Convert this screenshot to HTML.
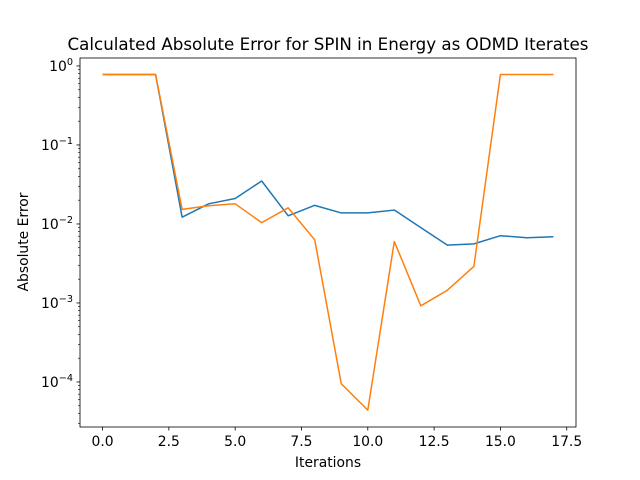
<!DOCTYPE html>
<html><head><meta charset="utf-8"><style>body{margin:0;background:#fff}svg{display:block;font-family:"DejaVu Sans","Liberation Sans",sans-serif}</style></head>
<body>
<svg id="chart" width="640" height="480"></svg>
<script>
const iterations=[0,1,2,3,4,5,6,7,8,9,10,11,12,13,14,15,16,17];
const seriesBlue=[0.78,0.78,0.78,0.0122,0.018,0.021,0.035,0.0127,0.0172,0.0138,0.0138,0.015,0.009,0.0054,0.0056,0.0071,0.0067,0.0069];
const seriesOrange=[0.78,0.78,0.78,0.0153,0.017,0.018,0.0104,0.016,0.0063,0.000095,0.000044,0.006,0.00092,0.00145,0.0029,0.78,0.78,0.78];
const xTicks=[0,2.5,5,7.5,10,12.5,15,17.5];
const xTickLabels=["0.0","2.5","5.0","7.5","10.0","12.5","15.0","17.5"];
const yTickExps=[0,-1,-2,-3,-4];
const NS="http://www.w3.org/2000/svg";
const svg=document.getElementById('chart');
const L=80,R=576,T=58,B=427;
const xMin=-0.85,xMax=17.85;
const yMin=-4.57,yMax=(B-T)/79+(-4.57);
function X(v){return L+(v-xMin)/(xMax-xMin)*(R-L);}
function Y(v){const lv=Math.log10(v);return B-(lv-yMin)/(yMax-yMin)*(B-T);}
function el(tag,attrs,parent){const e=document.createElementNS(NS,tag);for(const k in attrs)e.setAttribute(k,attrs[k]);(parent||svg).appendChild(e);return e;}
const title=el('text',{x:328,y:50,'text-anchor':'middle','font-size':16.7,fill:'#000'});
title.textContent='Calculated Absolute Error for SPIN in Energy as ODMD Iterates';


function line(data,color,name){
 const pts=iterations.map((x,i)=>X(x).toFixed(2)+','+Y(data[i]).toFixed(2)).join(' ');
 const p=el('polyline',{points:pts,fill:'none',stroke:color,'stroke-width':1.5,'stroke-linejoin':'round'});
 
 
}
line(seriesBlue,'#1f77b4','series-blue-line');
line(seriesOrange,'#ff7f0e','series-orange-line');
const frame=el('rect',{x:L,y:T,width:R-L,height:B-T,fill:'none',stroke:'#000','stroke-width':0.8});


xTicks.forEach((t,i)=>{
 const x=X(t);
 el('line',{x1:x,x2:x,y1:B,y2:B+3.5,stroke:'#000','stroke-width':0.8});
 const tx=el('text',{x:x,y:B+19,'text-anchor':'middle','font-size':13.9,fill:'#000'});
 tx.textContent=xTickLabels[i];
 
 
});
yTickExps.forEach(e=>{
 const y=Y(Math.pow(10,e));
 el('line',{x1:L,x2:L-3.5,y1:y,y2:y,stroke:'#000','stroke-width':0.8});
 const tx=el('text',{x:L-7,y:y+5,'text-anchor':'end','font-size':13.9,fill:'#000'});
 tx.innerHTML='10<tspan dy="-6" font-size="9.7">'+(e<0?'−'+(-e):e)+'</tspan>';
 
 
});
for(let e=-5;e<=0;e++){for(let m=2;m<=9;m++){const v=m*Math.pow(10,e);const y=Y(v);if(y<T||y>B)continue;el('line',{x1:L,x2:L-2,y1:y,y2:y,stroke:'#000','stroke-width':0.6});}}
const xl=el('text',{x:328,y:467,'text-anchor':'middle','font-size':13.9,fill:'#000'});
xl.textContent='Iterations';


const yl=el('text',{x:0,y:0,'text-anchor':'middle','font-size':13.9,fill:'#000',transform:'translate(28,242) rotate(-90)'});
yl.textContent='Absolute Error';


</script>
</body></html>
